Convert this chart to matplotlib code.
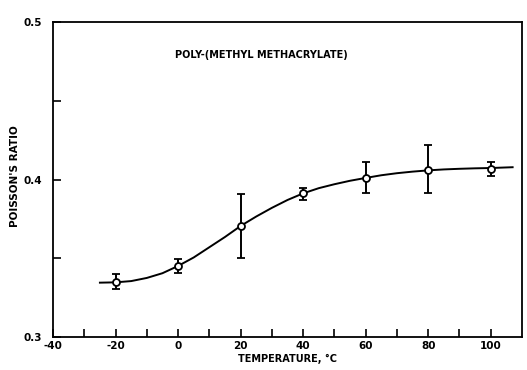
import matplotlib
matplotlib.use("Agg")
import matplotlib.pyplot as plt
import numpy as np

# Measured points
temp = [-20, 0, 20, 40, 60, 80, 100]
ratio = [0.3351, 0.3451, 0.3705, 0.3912, 0.4007, 0.4060, 0.4065]
err_low = [0.3303, 0.3404, 0.3503, 0.3870, 0.3912, 0.3912, 0.4021]
err_high = [0.3398, 0.3497, 0.3906, 0.3944, 0.4113, 0.4219, 0.4113]

# Smooth fitted curve
curve_t = [-25, -20, -15, -10, -5, 0, 5, 10, 15, 20, 25, 30, 35, 40, 45, 50,
           55, 60, 65, 70, 75, 80, 85, 90, 95, 100, 107]
curve_r = [0.3345, 0.3347, 0.3355, 0.3375, 0.3405, 0.3451, 0.3505, 0.3570,
           0.3635, 0.3705, 0.3765, 0.3820, 0.3870, 0.3912, 0.3945, 0.3970,
           0.3992, 0.4010, 0.4027, 0.4040, 0.4050, 0.4058, 0.4064, 0.4068,
           0.4071, 0.4073, 0.4078]

x_ticks = [-40, -20, 0, 20, 40, 60, 80, 100]
y_ticks = [0.3, 0.4, 0.5]

plt.rcParams['font.family'] = ['DejaVu Sans']
fig = plt.figure(figsize=(5.27, 3.70), dpi=100)
ax = fig.add_axes([0.1006, 0.0892, 0.8899, 0.8513])

ax.plot(curve_t, curve_r, color='black', lw=1.4, zorder=2)
r = np.array(ratio)
yerr = [r - np.array(err_low), np.array(err_high) - r]
ax.errorbar(temp, ratio, yerr=yerr, fmt='o', mfc='white', mec='black',
            ecolor='black', elinewidth=1.4, capsize=3, capthick=1.4,
            ms=5, mew=1.3, zorder=3)

ax.set_xlim(-40, 110)
ax.set_ylim(0.3, 0.5)
ax.set_xticks(x_ticks)
ax.set_xticklabels([str(v) for v in x_ticks], fontsize=7.5, fontweight='bold')
ax.set_xticks(np.arange(-30, 101, 10), minor=True)
ax.set_yticks(y_ticks)
ax.set_yticklabels([f"{v:.1f}" for v in y_ticks], fontsize=7.5, fontweight='bold')
ax.set_yticks([0.35, 0.45], minor=True)

ax.tick_params(axis='x', which='minor', direction='in', length=6, width=1.2)
ax.tick_params(axis='y', which='minor', direction='in', length=6, width=1.2)
ax.tick_params(axis='y', which='major', direction='in', length=6, width=1.2, pad=8)
ax.tick_params(axis='x', which='major', direction='in', length=6, width=1.2, pad=3)

for s in ax.spines.values():
    s.set_linewidth(1.3)

ax.text(0.26, 0.895, "POLY-(METHYL METHACRYLATE)", transform=ax.transAxes,
        fontsize=7, fontweight='bold', ha='left', va='center')
ax.set_xlabel("TEMPERATURE, °C", fontsize=7, fontweight='bold', labelpad=2)
ax.xaxis.set_label_coords(0.50, -0.055)
ax.set_ylabel("POISSON'S RATIO", fontsize=7.5, fontweight='bold')
ax.yaxis.set_label_coords(-0.07, 0.51)

fig.savefig("out.png", dpi=100)
